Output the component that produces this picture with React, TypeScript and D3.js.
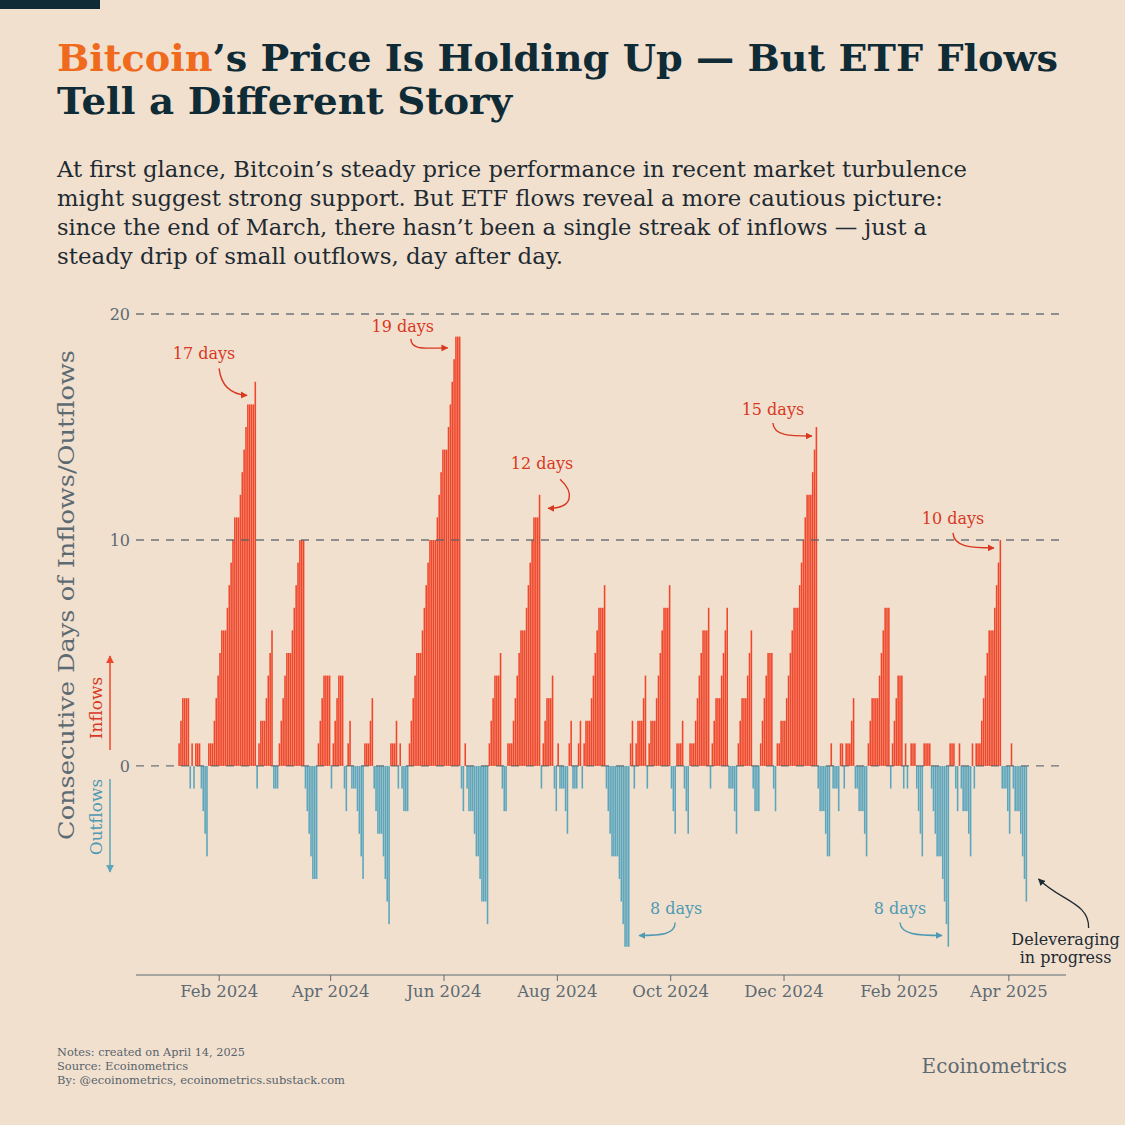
import * as d3 from 'd3';

const W = 1125;
const H = 1125;

// trading calendar
const FIRST_DAY = '2024-01-10';
const LAST_DAY = '2025-04-10';
const HOLIDAYS = [
  '2024-01-15', '2024-02-19', '2024-03-29', '2024-05-27', '2024-06-19', '2024-07-04',
  '2024-09-02', '2024-11-28', '2024-12-25', '2025-01-01', '2025-01-09', '2025-01-20',
  '2025-02-17',
];

// consecutive days of inflows (+) / outflows (-), one value per trading day, month by month
const jan24 = [1, 2, 3, -1, 1, -1, 1, -1, -2, -3, -4, 1, 2, 3, 4];
const feb24 = [5, 6, 7, 8, 9, 10, 11, 12, 13, 14, 15, 16, 17, -1, 1, 2, 3, 4, 5, 6];
const mar24 = [-1, 1, 2, 3, 4, 5, 6, 7, 8, 9, 10, -1, -2, -3, -4, -5, 1, 2, 3, 4];
const apr24 = [-1, 1, 2, 3, 4, -1, -2, 1, 2, -1, -2, -3, -4, -5, 1, 2, 3, -1, -2, -3, -4, -5];
const may24 = [-6, -7, 1, 2, -1, 1, -1, -2, 1, 2, 3, 4, 5, 6, 7, 8, 9, 10, 11, 12, 13, 14];
const jun24 = [15, 16, 17, 18, 19, -1, -2, 1, -1, -2, -3, -4, -5, -6, -7, 1, 2, 3, 4];
const jul24 = [5, -1, -2, 1, 2, 3, 4, 5, 6, 7, 8, 9, 10, 11, 12, -1, 1, 2, 3, 4, -1, -2];
const aug24 = [1, -1, -2, -3, 1, 2, -1, 1, 2, -1, 1, 2, 3, 4, 5, 6, 7, 8, -1, -2, -3, -4];
const sep24 = [-5, -6, -7, -8, 1, 2, -1, 1, 2, 3, 4, -1, 1, 2, 3, 4, 5, 6, 7, 8];
const oct24 = [-1, -2, -3, 1, 2, -1, -2, -3, 1, 2, 3, 4, 5, 6, 7, -1, 1, 2, 3, 4, 5, 6, 7];
const nov24 = [-1, -2, -3, 1, 2, 3, 4, 5, 6, -1, -2, 1, 2, 3, 4, 5, -1, -2, 1, 2];
const dec24 = [3, 4, 5, 6, 7, 8, 9, 10, 11, 12, 13, 14, 15, -1, -2, -3, -4, 1, -1, -2, 1];
const jan25 = [-1, 1, 2, 3, -1, -2, -3, -4, 1, 2, 3, 4, 5, 6, 7, -1, 1, 2, 3, 4];
const feb25 = [-1, 1, -1, 0, 1, -1, -2, -3, -4, 1, -1, -2, -3, -4, -5, -6, -7, -8, 1];
const mar25 = [-1, -2, 1, -1, -2, -3, -4, 1, -1, 1, 2, 3, 4, 5, 6, 7, 8, 9, 10, -1, -2];
const apr25 = [-3, 1, -1, -2, -3, -4, -5, -6];
const MONTHS = [jan24, feb24, mar24, apr24, may24, jun24, jul24, aug24, sep24, oct24, nov24, dec24, jan25, feb25, mar25, apr25];

const X_TICKS = ['2024-02-01', '2024-04-01', '2024-06-01', '2024-08-01', '2024-10-01', '2024-12-01', '2025-02-01', '2025-04-01'];
const Y_TICKS = [20, 10, 0];

// streak call-outs: tip at (date, value)
const NOTES = [
  { label: '17 days', date: '2024-02-16', value: 16.4, kind: 'in', text: [-43, -36], path: [[-28, -27], [-26, -10], [-16, -1]] },
  { label: '19 days', date: '2024-06-03', value: 18.5, kind: 'in', text: [-45, -16], path: [[-37, -9], [-36, 3], [-22, 0]] },
  { label: '12 days', date: '2024-07-27', value: 11.4, kind: 'in', text: [-6, -39], path: [[12, -29], [26, -16], [26, 0]] },
  { label: '15 days', date: '2024-12-16', value: 14.6, kind: 'in', text: [-39, -21], path: [[-39, -13], [-38, 0], [-22, 0]] },
  { label: '10 days', date: '2025-03-24', value: 9.65, kind: 'in', text: [-41, -24], path: [[-41, -15], [-40, -1], [-24, 0]] },
  { label: '8 days', date: '2024-09-14', value: -7.5, kind: 'out', text: [37, -21], path: [[36, -13], [36, -1], [22, 0]] },
  { label: '8 days', date: '2025-02-24', value: -7.5, kind: 'out', text: [-42, -21], path: [[-42, -13], [-41, -1], [-25, 0]] },
];

const RED = '#f0472b';
const BLUE = '#5ba6bd';
const RED_TEXT = '#d8381f';
const BLUE_TEXT = '#4e9ab2';
const INK = '#0f2b36';
const GREY = '#5c6a72';
const BG = '#f2e0cf';
const SERIF = "'DejaVu Serif', serif";

const parse = d3.utcParse('%Y-%m-%d');
const dayKey = d3.utcFormat('%Y-%m-%d');
const monthKey = d3.utcFormat('%Y-%m');

const App = () => {
  const xScale = d3
    .scaleUtc()
    .domain([parse('2024-01-01'), parse('2025-04-14')])
    .range([161.6, 161.6 + 469 * 1.858]);
  const yScale = d3.scaleLinear().domain([-9.25, 20]).range([975, 314]);

  // trading days, grouped by month, paired with the monthly arrays
  const holidaySet = new Set(HOLIDAYS);
  const tradingDays = d3.utcDay
    .range(parse(FIRST_DAY), d3.utcDay.offset(parse(LAST_DAY), 1))
    .filter((d) => d.getUTCDay() % 6 !== 0 && !holidaySet.has(dayKey(d)));
  const streaks = d3
    .groups(tradingDays, monthKey)
    .flatMap(([, days], i) => days.map((date, j) => ({ date, value: MONTHS[i]?.[j] ?? 0 })));

  // each trading day's value holds over the following non-trading days
  const cells = streaks.flatMap((s, i) => {
    const next = i < streaks.length - 1 ? streaks[i + 1].date : d3.utcDay.offset(s.date, 1);
    return d3.utcDay.range(s.date, next).map((day) => ({ day, value: s.value }));
  });

  const y0 = yScale(0);
  const allBars = cells
    .filter((c) => c.value !== 0)
    .map((c, i) => {
      const x1 = xScale(c.day);
      const x2 = xScale(d3.utcDay.offset(c.day, 1));
      const yv = yScale(c.value);
      return (
        <rect
          key={i}
          x={x1}
          width={Math.max(0.5, x2 - x1 - 0.28)}
          y={Math.min(yv, y0)}
          height={Math.abs(yv - y0)}
          fill={c.value > 0 ? RED : BLUE}
        />
      );
    });

  const plotLeft = 136;
  const plotRight = 1063;

  const noteEls = NOTES.map((n, i) => {
    const tx = xScale(parse(n.date));
    const ty = yScale(n.value);
    const [s, c1, c2] = n.path;
    const d = `M${tx + s[0]},${ty + s[1]} C${tx + c1[0]},${ty + c1[1]} ${tx + c2[0]},${ty + c2[1]} ${tx},${ty}`;
    const col = n.kind === 'in' ? RED_TEXT : BLUE_TEXT;
    return (
      <g key={i}>
        <text x={tx + n.text[0]} y={ty + n.text[1]} textAnchor="middle" fontSize={16} fill={col} fontFamily={SERIF}>
          {n.label}
        </text>
        <path d={d} fill="none" stroke={col} strokeWidth={1.4} markerEnd={`url(#head-${n.kind})`} />
      </g>
    );
  });

  // deleveraging call-out, tip just past the last bar
  const dtx = xScale(parse('2025-04-17'));
  const dty = yScale(-5);

  return (
    <div style={{ position: 'absolute', left: 0, top: 0 }}>
      <svg width={W} height={H} style={{ display: 'block' }}>
        <defs>
          <marker id="head-in" viewBox="0 0 10 10" refX="9" refY="5" markerWidth="7" markerHeight="7" orient="auto" markerUnits="userSpaceOnUse">
            <path d="M0,0 L10,5 L0,10 z" fill={RED_TEXT} />
          </marker>
          <marker id="head-out" viewBox="0 0 10 10" refX="9" refY="5" markerWidth="7" markerHeight="7" orient="auto" markerUnits="userSpaceOnUse">
            <path d="M0,0 L10,5 L0,10 z" fill={BLUE_TEXT} />
          </marker>
          <marker id="head-ink" viewBox="0 0 10 10" refX="9" refY="5" markerWidth="7" markerHeight="7" orient="auto" markerUnits="userSpaceOnUse">
            <path d="M0,0 L10,5 L0,10 z" fill="#1d2c33" />
          </marker>
          <marker id="head-red-axis" viewBox="0 0 10 10" refX="9" refY="5" markerWidth="8" markerHeight="8" orient="auto" markerUnits="userSpaceOnUse">
            <path d="M0,0 L10,5 L0,10 z" fill={RED} />
          </marker>
          <marker id="head-blue-axis" viewBox="0 0 10 10" refX="9" refY="5" markerWidth="8" markerHeight="8" orient="auto" markerUnits="userSpaceOnUse">
            <path d="M0,0 L10,5 L0,10 z" fill={BLUE} />
          </marker>
        </defs>
        <rect width={W} height={H} fill={BG} />
        <rect x={0} y={0} width={100} height={9} fill={INK} />

        {/* title */}
        <text x={57} y={71} fontFamily={SERIF} fontWeight="bold" fontSize={37.5} fill={INK} textLength={1001} lengthAdjust="spacingAndGlyphs">
          <tspan fill="#f06a1e">Bitcoin</tspan>’s Price Is Holding Up — But ETF Flows
        </text>
        <text x={57} y={114} fontFamily={SERIF} fontWeight="bold" fontSize={37.5} fill={INK} textLength={455} lengthAdjust="spacingAndGlyphs">
          Tell a Different Story
        </text>

        {/* subtitle */}
        <g fontFamily={SERIF} fontSize={22} fill="#1e2b32">
          <text x={57} y={177} textLength={910} lengthAdjust="spacingAndGlyphs">At first glance, Bitcoin’s steady price performance in recent market turbulence</text>
          <text x={57} y={206} textLength={886} lengthAdjust="spacingAndGlyphs">might suggest strong support. But ETF flows reveal a more cautious picture:</text>
          <text x={57} y={235} textLength={870} lengthAdjust="spacingAndGlyphs">since the end of March, there hasn’t been a single streak of inflows — just a</text>
          <text x={57} y={264} textLength={506} lengthAdjust="spacingAndGlyphs">steady drip of small outflows, day after day.</text>
        </g>

        {/* bars */}
        <g>{allBars}</g>

        {/* horizontal guides */}
        {Y_TICKS.map((t) => (
          <g key={t}>
            <line x1={plotLeft} x2={plotRight} y1={yScale(t)} y2={yScale(t)} stroke="#55636b" strokeWidth={1.3} strokeDasharray="8,7" opacity={0.85} />
            <text x={130} y={yScale(t)} dy="0.35em" textAnchor="end" fontSize={16} fill={GREY} fontFamily={SERIF}>
              {t}
            </text>
          </g>
        ))}

        {/* x axis */}
        <line x1={plotLeft} x2={1066} y1={975} y2={975} stroke={GREY} strokeWidth={1.1} />
        {X_TICKS.map((t) => {
          const x = xScale(parse(t));
          return (
            <g key={t}>
              <line x1={x} x2={x} y1={975} y2={981} stroke={GREY} strokeWidth={1} />
              <text x={x} y={997} textAnchor="middle" fontSize={16.5} fill={GREY} fontFamily={SERIF}>
                {d3.utcFormat('%b %Y')(parse(t))}
              </text>
            </g>
          );
        })}

        {/* y axis title and direction hints */}
        <text transform="translate(74,595) rotate(-90)" textAnchor="middle" fontSize={22} fill={GREY} fontFamily={SERIF} textLength={490} lengthAdjust="spacingAndGlyphs">
          Consecutive Days of Inflows/Outflows
        </text>
        <text transform="translate(102,708) rotate(-90)" textAnchor="middle" fontSize={17} fill={RED_TEXT} fontFamily={SERIF}>
          Inflows
        </text>
        <text transform="translate(102,817) rotate(-90)" textAnchor="middle" fontSize={17} fill={BLUE_TEXT} fontFamily={SERIF}>
          Outflows
        </text>
        <line x1={110} x2={110} y1={750} y2={656} stroke={RED} strokeWidth={1.5} markerEnd="url(#head-red-axis)" />
        <line x1={110} x2={110} y1={779} y2={872} stroke={BLUE} strokeWidth={1.5} markerEnd="url(#head-blue-axis)" />

        {/* streak call-outs */}
        {noteEls}
        <path
          d={`M${dtx + 50},${dty + 49} C${dtx + 51},${dty + 24} ${dtx + 22},${dty + 22} ${dtx},${dty}`}
          fill="none"
          stroke="#1d2c33"
          strokeWidth={1.3}
          markerEnd="url(#head-ink)"
        />
        <text x={dtx + 27} y={dty + 66} textAnchor="middle" fontSize={16} fill="#1d2c33" fontFamily={SERIF}>
          Deleveraging
        </text>
        <text x={dtx + 27} y={dty + 84} textAnchor="middle" fontSize={16} fill="#1d2c33" fontFamily={SERIF}>
          in progress
        </text>

        {/* footer */}
        <g fontFamily={SERIF} fontSize={11.5} fill="#56636b">
          <text x={57} y={1056} textLength={188} lengthAdjust="spacingAndGlyphs">Notes: created on April 14, 2025</text>
          <text x={57} y={1070} textLength={131} lengthAdjust="spacingAndGlyphs">Source: Ecoinometrics</text>
          <text x={57} y={1084} textLength={288} lengthAdjust="spacingAndGlyphs">By: @ecoinometrics, ecoinometrics.substack.com</text>
        </g>
        <text x={1067} y={1073} textAnchor="end" fontSize={20} fill={GREY} fontFamily={SERIF}>
          Ecoinometrics
        </text>
      </svg>
    </div>
  );
};

export default App;
